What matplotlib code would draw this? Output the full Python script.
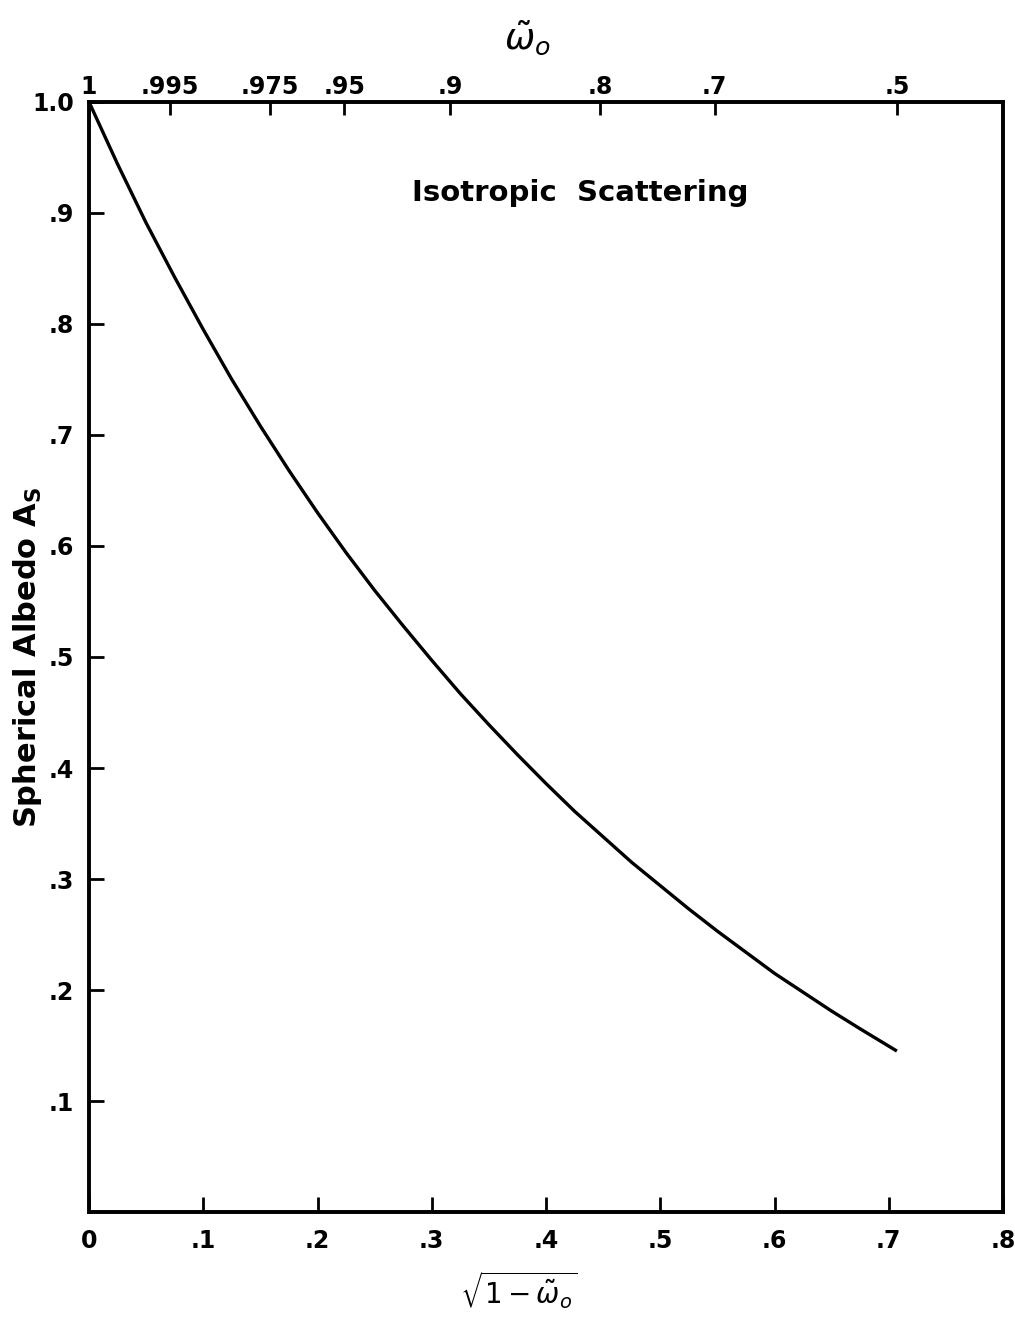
import numpy as np
import matplotlib
matplotlib.use('Agg')
import matplotlib.pyplot as plt

# spherical albedo vs sqrt(1 - omega0), isotropic scattering
sqrt_x = [0.0, 0.025, 0.05, 0.075, 0.1, 0.125, 0.15, 0.175, 0.2, 0.225, 0.25, 0.275,
          0.3, 0.325, 0.35, 0.375, 0.4, 0.425, 0.45, 0.475, 0.5, 0.525, 0.55, 0.575,
          0.6, 0.625, 0.65, 0.675, 0.7071]
albedo = [1.0, 0.944, 0.891, 0.842, 0.795, 0.750, 0.708, 0.668, 0.630, 0.594, 0.560, 0.528,
          0.497, 0.467, 0.439, 0.412, 0.386, 0.361, 0.338, 0.315, 0.294, 0.273, 0.253, 0.234,
          0.215, 0.198, 0.181, 0.165, 0.145]

# top axis: single scattering albedo
omega_vals = [1.0, 0.995, 0.975, 0.95, 0.9, 0.8, 0.7, 0.5]
omega_labels = ['1', '.995', '.975', '.95', '.9', '.8', '.7', '.5']

xticks = [0, 0.1, 0.2, 0.3, 0.4, 0.5, 0.6, 0.7, 0.8]
xlabels = ['0', '.1', '.2', '.3', '.4', '.5', '.6', '.7', '.8']
yticks = [0.1, 0.2, 0.3, 0.4, 0.5, 0.6, 0.7, 0.8, 0.9, 1.0]
ylabels = ['.1', '.2', '.3', '.4', '.5', '.6', '.7', '.8', '.9', '1.0']

plt.rcParams['font.family'] = 'DejaVu Sans'
plt.rcParams['mathtext.fontset'] = 'dejavusans'

fig = plt.figure(figsize=(10.15, 13.19), dpi=100)
ax = fig.add_axes([0.0877, 0.0811, 0.9005, 0.8416])

ax.plot(sqrt_x, albedo, color='black', lw=2.4, solid_capstyle='butt')

ax.set_xlim(0, 0.8)
ax.set_ylim(0, 1.0)
ax.set_xticks(xticks)
ax.set_xticklabels(xlabels, fontsize=17, fontweight='bold')
ax.set_yticks(yticks)
ax.set_yticklabels(ylabels, fontsize=17, fontweight='bold')
ax.tick_params(direction='in', length=11, width=2, pad=12)
ax.tick_params(axis='y', pad=11)
for s in ax.spines.values():
    s.set_linewidth(2.6)

ax.set_xlabel(r'$\sqrt{1-\tilde{\omega}_o}$', fontsize=20, va='center')
ax.xaxis.set_label_coords(0.47, -0.07)
ax.set_ylabel(r'Spherical Albedo $\mathbf{A_S}$', fontsize=22, fontweight='bold',
              va='center')
ax.yaxis.set_label_coords(-0.067, 0.5)

top = ax.twiny()
top.set_xlim(0, 0.8)
top.set_xticks([np.sqrt(1 - w) for w in omega_vals])
top.set_xticklabels(omega_labels, fontsize=17, fontweight='bold')
top.tick_params(direction='in', length=9, width=2, pad=2)
top.set_xlabel(r'$\tilde{\omega}_o$', fontsize=26)
top.xaxis.set_label_coords(0.48, 1.048)
for s in top.spines.values():
    s.set_linewidth(2.6)

ax.text(0.43, 0.918, 'Isotropic  Scattering', fontsize=21, fontweight='bold',
        ha='center', va='center')

fig.savefig('out.png', dpi=100)
